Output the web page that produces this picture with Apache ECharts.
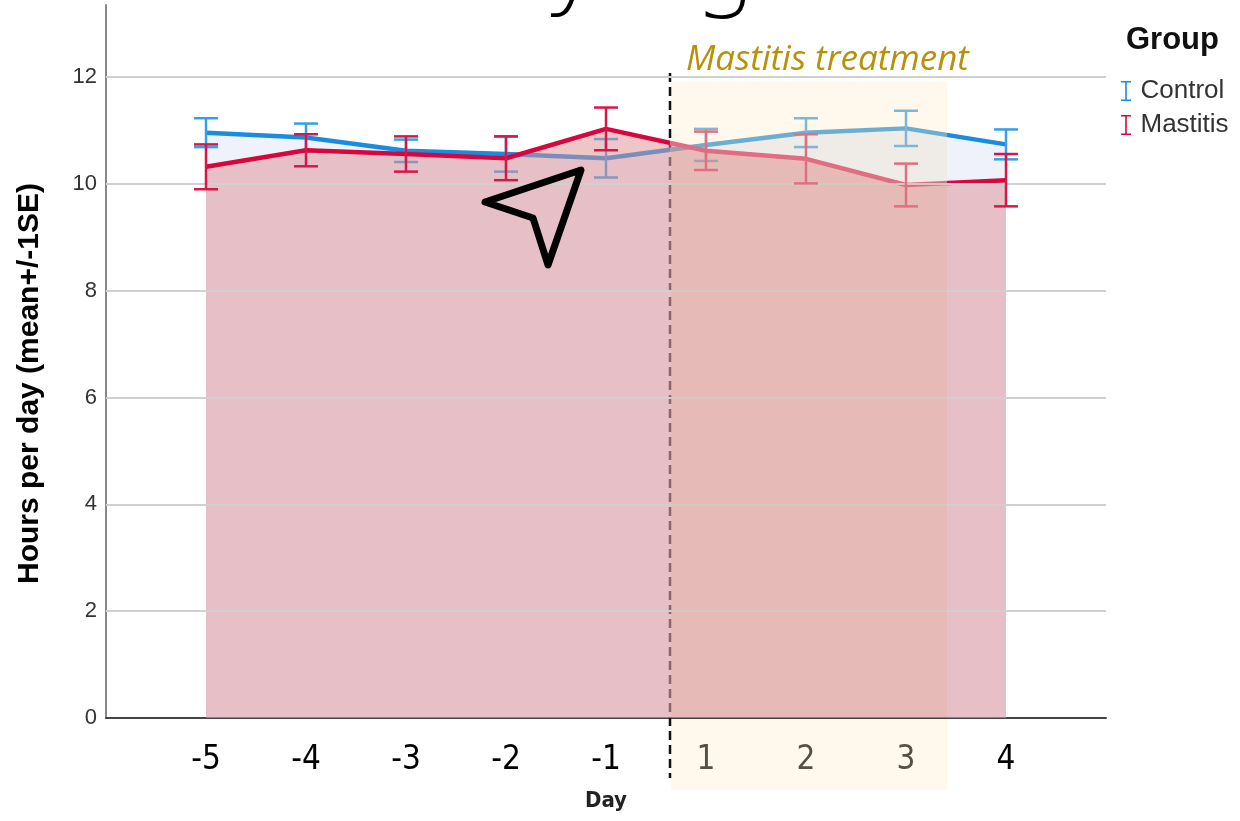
<!DOCTYPE html>
<html>
<head>
<meta charset="utf-8">
<script src="https://cdn.jsdelivr.net/npm/echarts@6/dist/echarts.min.js"></script>
<style>
html,body{margin:0;padding:0;background:#fff;}
#chart{width:1240px;height:821px;}
</style>
</head>
<body>
<div id="chart"></div>
<script>
// ---- data ----
var dayLabels = ['-5', '-4', '-3', '-2', '-1', '1', '2', '3', '4'];
var treatmentDays = ['1', '2', '3'];
var controlMean = [10.96, 10.87, 10.62, 10.56, 10.48, 10.73, 10.96, 11.04, 10.74];
var controlSE   = [0.27, 0.26, 0.21, 0.33, 0.36, 0.30, 0.27, 0.33, 0.28];
var mastitisMean = [10.32, 10.63, 10.56, 10.48, 11.03, 10.62, 10.47, 9.98, 10.07];
var mastitisSE   = [0.42, 0.30, 0.33, 0.41, 0.40, 0.36, 0.46, 0.40, 0.49];
var yTicks = [0, 2, 4, 6, 8, 10, 12];

var NARROW = '"Liberation Sans Narrow", "DejaVu Sans Condensed", "Liberation Sans", sans-serif';

function pts(means) { return means.map(function (m, i) { return [i, m]; }); }
function bars(means, se) { return means.map(function (m, i) { return [i, m - se[i], m + se[i]]; }); }
function inTreatment(i) { return treatmentDays.indexOf(dayLabels[i]) >= 0; }

function errRender(color, fadedColor) {
  return function (params, api) {
    var x = api.value(0);
    var pLo = api.coord([x, api.value(1)]);
    var pHi = api.coord([x, api.value(2)]);
    var w = 12;
    var st = { stroke: inTreatment(x) ? fadedColor : color, lineWidth: 2.5 };
    return {
      type: 'group',
      children: [
        { type: 'line', shape: { x1: pHi[0], y1: pHi[1], x2: pLo[0], y2: pLo[1] }, style: st },
        { type: 'line', shape: { x1: pHi[0] - w, y1: pHi[1], x2: pHi[0] + w, y2: pHi[1] }, style: st },
        { type: 'line', shape: { x1: pLo[0] - w, y1: pLo[1], x2: pLo[0] + w, y2: pLo[1] }, style: st }
      ]
    };
  };
}

var gridLines = yTicks.filter(function (t) { return t > 0; }).map(function (t) { return { yAxis: t }; });

var chart = echarts.init(document.getElementById('chart'), null, { renderer: 'canvas' });
var option = {
  backgroundColor: '#ffffff',
  animation: false,
  title: [{
    text: 'Group', left: 1121, top: 20,
    textStyle: { fontFamily: 'Liberation Sans', fontWeight: 'bold', fontSize: 31, color: '#111' }
  }],
  legend: {
    data: ['Control', 'Mastitis'],
    orient: 'vertical', left: 1116, top: 73,
    itemWidth: 11, itemHeight: 20, itemGap: 8,
    icon: 'path://M0,0H10V1.6H5.8V18.4H10V20H0V18.4H4.2V1.6H0Z',
    textStyle: { fontFamily: 'Liberation Sans', fontSize: 26, color: '#333', padding: [0, 0, 0, 4] }
  },
  visualMap: [
    { show: false, type: 'piecewise', seriesIndex: 0, dimension: 0,
      pieces: [{ lt: 4.64, color: '#1a8ce0' }, { gte: 4.64, lt: 7.41, color: '#6cb3e2' }, { gte: 7.41, color: '#1a8ce0' }] },
    { show: false, type: 'piecewise', seriesIndex: 2, dimension: 0,
      pieces: [{ lt: 4.64, color: '#d7063f' }, { gte: 4.64, lt: 7.41, color: '#e0708c' }, { gte: 7.41, color: '#d7063f' }] }
  ],
  grid: { left: 106, right: 134, top: 5, bottom: 103, containLabel: false, outerBoundsMode: 'none' },
  xAxis: {
    type: 'value', min: -1, max: 9, interval: 1,
    axisLine: { show: true, onZero: false, lineStyle: { color: '#444', width: 2 } },
    axisTick: { show: false },
    splitLine: { show: false },
    axisLabel: {
      margin: 26, fontSize: 33, fontFamily: NARROW,
      color: function (v) { return (v >= 0 && v < dayLabels.length && inTreatment(v)) ? '#57524a' : '#000'; },
      formatter: function (v) { return (v >= 0 && v < dayLabels.length) ? dayLabels[v] : ''; }
    },
    name: 'Day', nameLocation: 'middle', nameGap: 72,
    nameTextStyle: { fontFamily: NARROW, fontWeight: 'bold', fontSize: 22, color: '#222' }
  },
  yAxis: {
    type: 'value', min: 0, max: 13.35, interval: 2,
    axisLine: { show: true, onZero: false, lineStyle: { color: '#888', width: 2 } },
    axisTick: { show: false },
    axisLabel: {
      margin: 9, fontSize: 22, fontFamily: 'Liberation Sans', color: '#333',
      formatter: function (v) { return yTicks.indexOf(v) >= 0 ? String(v) : ''; }
    },
    splitLine: { show: false },
    name: 'Hours per day (mean+/-1SE)', nameLocation: 'middle', nameGap: 61,
    nameTextStyle: { fontFamily: 'Liberation Sans', fontWeight: 'bold', fontSize: 30, color: '#000', padding: [0, 44, 0, 0] }
  },
  series: [
    {
      name: 'Control', type: 'line', data: pts(controlMean),
      symbol: 'none', z: 2,
      itemStyle: { color: '#1a8ce0' },
      lineStyle: { width: 4.5 },
      areaStyle: { color: 'rgba(190,205,235,0.25)', opacity: 1, origin: 'start' },
      markLine: {
        silent: true, symbol: 'none', label: { show: false },
        lineStyle: { color: '#d0d0d0', width: 2, type: 'solid' },
        data: gridLines
      }
    },
    {
      name: 'Control SE', type: 'custom', data: bars(controlMean, controlSE),
      renderItem: errRender('#35a0e6', '#7cbde6'), z: 3,
      encode: { x: 0, y: [1, 2] }
    },
    {
      name: 'Mastitis', type: 'line', data: pts(mastitisMean),
      symbol: 'none', z: 4,
      itemStyle: { color: '#d7063f' },
      lineStyle: { width: 4.5 },
      areaStyle: { color: 'rgba(221,141,146,0.5)', opacity: 1, origin: 'start' }
    },
    {
      name: 'Mastitis SE', type: 'custom', data: bars(mastitisMean, mastitisSE),
      renderItem: errRender('#d6174a', '#e0728c'), z: 5,
      encode: { x: 0, y: [1, 2] }
    }
  ],
  graphic: [
    { type: 'line', z: 1, silent: true,
      shape: { x1: 670, y1: 73, x2: 670, y2: 778 },
      style: { stroke: '#111', lineWidth: 2.5, lineDash: [9, 5] } },
    { type: 'rect', z: 100, silent: true,
      shape: { x: 671, y: 82, width: 276, height: 708 },
      style: { fill: 'rgb(255,248,236)', blend: 'multiply' } },
    { type: 'text', z: 101, silent: true, x: 686, y: 60,
      style: { text: 'Mastitis treatment', font: 'italic 35px "Open Sans"', fill: '#b8900a', verticalAlign: 'middle', textAlign: 'left' } },
    { type: 'polygon', z: 102, silent: true,
      shape: { points: [[485, 202], [581, 170], [548, 265], [533, 218]] },
      style: { fill: 'none', stroke: '#000', lineWidth: 7, lineJoin: 'round' } },
    { type: 'text', z: 102, silent: true, x: 625, y: -28,
      style: { text: 'Lying', font: '200 100px "DejaVu Sans"', fill: '#000', verticalAlign: 'middle', textAlign: 'center' } }
  ]
};
chart.setOption(option);
</script>
</body>
</html>
